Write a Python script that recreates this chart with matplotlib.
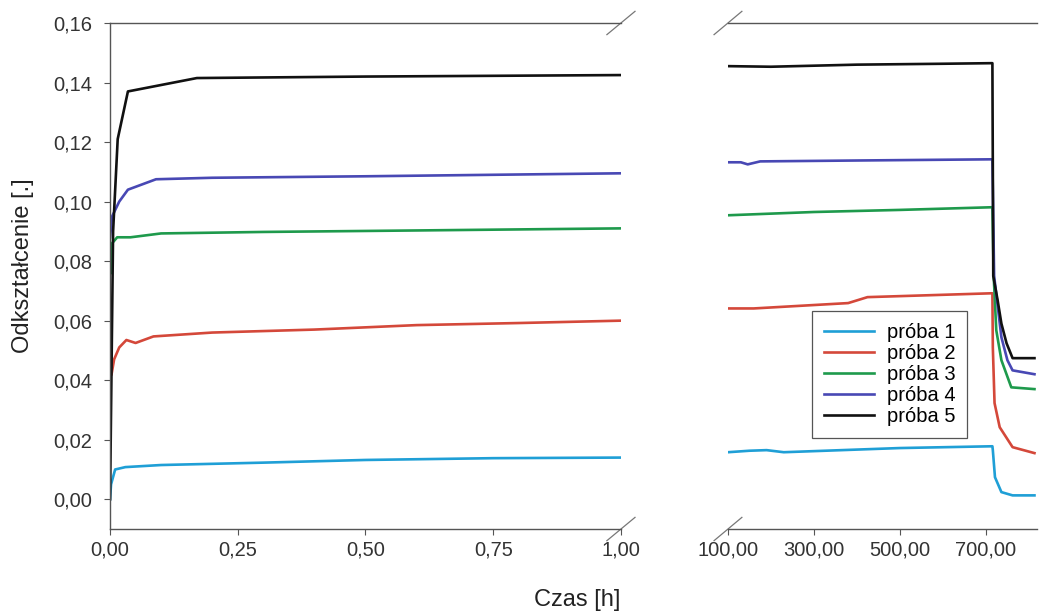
import numpy as np
import matplotlib
matplotlib.use("Agg")
import matplotlib.pyplot as plt
from matplotlib.ticker import FuncFormatter

plt.rcParams['font.family'] = ['Liberation Sans', 'DejaVu Sans']

labels = ['próba 1', 'próba 2', 'próba 3', 'próba 4', 'próba 5']
line_colors = ['#1f9fd6', '#d4483a', '#1e9a4c', '#4848b4', '#111111']

# left part: first hour
t1_a = [0.0, 0.002, 0.01, 0.03, 0.1, 0.3, 0.5, 0.75, 1.0]
p1_a = [0.0, 0.005, 0.010, 0.0108, 0.0115, 0.0123, 0.0132, 0.0138, 0.014]
t2_a = [0.003, 0.008, 0.018, 0.032, 0.05, 0.085, 0.2, 0.4, 0.6, 0.8, 1.0]
p2_a = [0.042, 0.047, 0.051, 0.0535, 0.0525, 0.0547, 0.056, 0.057, 0.0585, 0.0592, 0.060]
t3_a = [0.002, 0.004, 0.014, 0.04, 0.1, 0.3, 0.6, 1.0]
p3_a = [0.076, 0.086, 0.088, 0.088, 0.0893, 0.0898, 0.0903, 0.091]
t4_a = [0.0, 0.004, 0.018, 0.035, 0.09, 0.2, 0.5, 1.0]
p4_a = [0.088, 0.095, 0.100, 0.104, 0.1075, 0.108, 0.1085, 0.1095]
t5_a = [0.0, 0.006, 0.015, 0.035, 0.17, 0.5, 1.0]
p5_a = [0.0, 0.09, 0.121, 0.137, 0.1415, 0.142, 0.1425]

# right part: 100 h onwards
t1_b = [100, 150, 190, 230, 500, 716, 717, 722, 737, 763, 814]
p1_b = [0.0158, 0.0163, 0.0165, 0.0158, 0.0172, 0.0178, 0.0165, 0.0074, 0.0024, 0.0013, 0.0013]
t2_b = [100, 160, 380, 425, 716, 717, 721, 733, 763, 814]
p2_b = [0.0641, 0.0641, 0.0659, 0.0679, 0.0692, 0.051, 0.0323, 0.0242, 0.0175, 0.0155]
t3_b = [100, 300, 500, 716, 719, 725, 737, 760, 814]
p3_b = [0.0954, 0.0965, 0.0972, 0.0981, 0.075, 0.0568, 0.0467, 0.0376, 0.037]
t4_b = [100, 130, 146, 175, 400, 716, 720, 737, 751, 763, 814]
p4_b = [0.1132, 0.1132, 0.1125, 0.1135, 0.1138, 0.1142, 0.075, 0.0544, 0.0467, 0.0433, 0.042]
t5_b = [100, 200, 400, 600, 716, 718, 728, 737, 749, 763, 814]
p5_b = [0.1455, 0.1453, 0.146, 0.1463, 0.1465, 0.075, 0.067, 0.059, 0.0524, 0.0474, 0.0474]

left_series = [(t1_a, p1_a), (t2_a, p2_a), (t3_a, p3_a), (t4_a, p4_a), (t5_a, p5_a)]
right_series = [(t1_b, p1_b), (t2_b, p2_b), (t3_b, p3_b), (t4_b, p4_b), (t5_b, p5_b)]

y_ticks = np.arange(0.0, 0.161, 0.02)
left_xticks = [0.0, 0.25, 0.5, 0.75, 1.0]
right_xticks = [100, 300, 500, 700]

fig = plt.figure(figsize=(10.41, 6.16), dpi=100)
ax1 = fig.add_axes([0.1057, 0.1412, 0.4908, 0.8215])
ax2 = fig.add_axes([0.6993, 0.1412, 0.2969, 0.8215], sharey=ax1)

comma = FuncFormatter(lambda v, pos: ('%.2f' % v).replace('.', ','))
spine_col = '#555555'

for (t, p), c, lab in zip(left_series, line_colors, labels):
    ax1.plot(t, p, color=c, lw=1.9, label=lab)
for (t, p), c, lab in zip(right_series, line_colors, labels):
    ax2.plot(t, p, color=c, lw=1.9, label=lab)

ax1.set_xlim(0, 1.0)
ax1.set_ylim(-0.01, 0.16)
ax2.set_xlim(100, 820)

ax1.set_yticks(y_ticks)
ax1.set_xticks(left_xticks)
ax2.set_xticks(right_xticks)
ax1.yaxis.set_major_formatter(comma)
ax1.xaxis.set_major_formatter(comma)
ax2.xaxis.set_major_formatter(comma)

for ax in (ax1, ax2):
    for s in ax.spines.values():
        s.set_color(spine_col)
        s.set_linewidth(1.0)
    ax.spines['right'].set_visible(False)
    ax.tick_params(direction='out', length=4, width=0.8, color=spine_col,
                   labelsize=14.5, labelcolor='#333333')
    ax.tick_params(axis='x', pad=4)
ax1.tick_params(axis='y', pad=9)
ax2.spines['left'].set_visible(False)
ax2.tick_params(axis='y', left=False, labelleft=False)

# break marks
kw = dict(color='#777777', lw=0.9, clip_on=False)
dx1, dy = 0.0275, 0.023
dx2 = 0.045
for yy in (0, 1):
    ax1.plot([1 - dx1, 1 + dx1], [yy - dy, yy + dy], transform=ax1.transAxes, **kw)
    ax2.plot([-dx2, dx2], [yy - dy, yy + dy], transform=ax2.transAxes, **kw)

fig.text(0.022, 0.568, 'Odkształcenie [.]', fontsize=17, color='#222222',
         rotation=90, ha='center', va='center')
fig.text(0.554, 0.026, 'Czas [h]', fontsize=17, color='#222222', ha='center', va='center')

leg = ax2.legend(loc='upper left', bbox_to_anchor=(0.272, 0.431), borderaxespad=0,
                 fontsize=14.5, frameon=True, fancybox=False, framealpha=1,
                 handlelength=2.5, handletextpad=0.6, labelspacing=0.1, borderpad=0.6)
leg.get_frame().set_edgecolor('#555555')
leg.get_frame().set_linewidth(0.9)

fig.savefig('out.png', dpi=100)
